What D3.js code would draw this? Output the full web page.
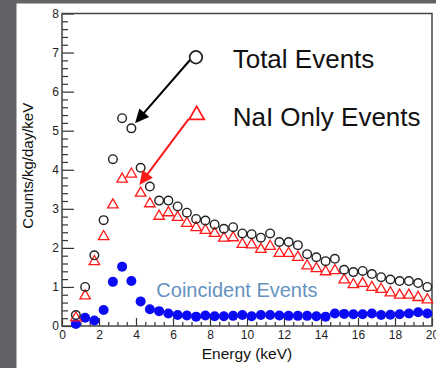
<!DOCTYPE html>
<html><head><meta charset="utf-8">
<script src="https://cdn.jsdelivr.net/npm/d3@7"></script>
<style>html,body{margin:0;padding:0;background:#fff;}svg{display:block;font-family:"Liberation Sans",Arial,sans-serif;}</style>
</head><body>
<svg id="c" width="436" height="368"></svg>
<script>
const energy = [0.75,1.25,1.75,2.25,2.75,3.25,3.75,4.25,4.75,5.25,5.75,6.25,6.75,7.25,7.75,8.25,8.75,9.25,9.75,10.25,10.75,11.25,11.75,12.25,12.75,13.25,13.75,14.25,14.75,15.25,15.75,16.25,16.75,17.25,17.75,18.25,18.75,19.25,19.75];
const totalEvents = [0.28,1.0,1.81,2.71,4.27,5.32,5.06,4.05,3.57,3.21,3.21,3.06,2.90,2.74,2.70,2.60,2.49,2.53,2.37,2.35,2.26,2.37,2.15,2.15,2.07,1.84,1.76,1.66,1.72,1.44,1.38,1.41,1.33,1.25,1.19,1.15,1.15,1.10,1.00];
const naiOnly = [0.21,0.77,1.65,2.29,3.10,3.76,3.89,3.40,3.13,2.81,2.90,2.78,2.63,2.52,2.45,2.37,2.25,2.26,2.09,2.08,1.96,2.04,1.86,1.86,1.76,1.54,1.47,1.39,1.42,1.18,1.06,1.09,0.99,0.94,0.85,0.79,0.79,0.73,0.67];
const coincident = [0.05,0.21,0.14,0.41,1.13,1.52,1.15,0.63,0.43,0.38,0.32,0.28,0.27,0.24,0.27,0.25,0.25,0.26,0.28,0.25,0.28,0.28,0.27,0.26,0.26,0.26,0.25,0.24,0.32,0.31,0.30,0.30,0.32,0.28,0.29,0.30,0.32,0.35,0.32];
const xTicks = [0,2,4,6,8,10,12,14,16,18,20];
const yTicks = [0,1,2,3,4,5,6,7,8];
const legendItems = [
  {label:"Total Events", kind:"circle", color:"#222", pos:[7.24,6.88], arrowFrom:[6.92,6.81], arrowTo:[3.95,5.19]},
  {label:"NaI Only Events", kind:"triangle", color:"#ff1a1a", pos:[7.28,5.40], arrowFrom:[6.83,5.29], arrowTo:[4.18,3.61]}
];
const coincidentLabel = {text:"Coincident Events", pos:[5.1,0.75]};

const svg = d3.select("#c");
svg.append("rect").attr("x",0).attr("y",0).attr("width",436).attr("height",3.5).attr("fill","#646266");
svg.append("rect").attr("x",0).attr("y",0).attr("width",16.5).attr("height",368).attr("fill","#646266");

const x = d3.scaleLinear().domain([0,20]).range([62,432]);
const y = d3.scaleLinear().domain([0,8]).range([326,13.5]);

const axisColor = "#333";
const xMinor = d3.range(0,20.01,0.5).filter(v=>Math.abs(v%2)>1e-6);
const yMinor = d3.range(0,8.01,0.2).filter(v=>Math.abs(v-Math.round(v))>1e-6);
const gxm = svg.append("g").attr("transform","translate(0,326)").call(d3.axisBottom(x).tickValues(xMinor).tickSize(-4).tickSizeOuter(0).tickFormat(""));
const gym = svg.append("g").attr("transform","translate(62,0)").call(d3.axisLeft(y).tickValues(yMinor).tickSize(-6).tickSizeOuter(0).tickFormat(""));
const gx = svg.append("g").attr("transform","translate(0,326)").call(d3.axisBottom(x).tickValues(xTicks).tickSize(-8).tickSizeOuter(0).tickPadding(4).tickFormat(d3.format("d")));
const gy = svg.append("g").attr("transform","translate(62,0)").call(d3.axisLeft(y).tickValues(yTicks).tickSize(-12).tickSizeOuter(0).tickPadding(3).tickFormat(d3.format("d")));
[gxm,gym,gx,gy].forEach(g=>{
  g.selectAll("path.domain").remove();
  g.selectAll("line").attr("stroke",axisColor).attr("stroke-width",1.2);
  g.selectAll("text").attr("fill","#222").style("font-size","12px").style("font-family","Liberation Sans, Arial, sans-serif");
});
svg.append("rect").attr("x",62).attr("y",13.5).attr("width",370).attr("height",312.5).attr("fill","none").attr("stroke","#444").attr("stroke-width",1.5);

svg.append("text").attr("x",(x(0)+x(20))/2).attr("y",359.3).attr("text-anchor","middle").style("font-size","15.5px").attr("fill","#111").text("Energy (keV)");
svg.append("text").attr("transform",`translate(33,${(y(0)+y(8))/2 - 4}) rotate(-90)`).attr("text-anchor","middle").style("font-size","15px").attr("fill","#111").text("Counts/kg/day/keV");

function triPath(cx,cy,s){
  const h = s*Math.sqrt(3)/2;
  return `M${cx},${cy-2*h/3}L${cx+s/2},${cy+h/3}L${cx-s/2},${cy+h/3}Z`;
}

svg.append("g").selectAll("circle").data(energy).join("circle")
  .attr("cx",d=>x(d)).attr("cy",(d,i)=>y(coincident[i])).attr("r",5).attr("fill","#0a0af5");
svg.append("g").selectAll("path").data(energy).join("path")
  .attr("d",(d,i)=>triPath(x(d),y(naiOnly[i]),10.5)).attr("fill","none").attr("stroke","#ff1a1a").attr("stroke-width",1.3);
svg.append("g").selectAll("circle").data(energy).join("circle")
  .attr("cx",d=>x(d)).attr("cy",(d,i)=>y(totalEvents[i])).attr("r",4.3).attr("fill","none").attr("stroke","#222").attr("stroke-width",1.4);

legendItems.forEach(it=>{
  const [x0,y0] = [x(it.arrowFrom[0]),y(it.arrowFrom[1])];
  const [x1,y1] = [x(it.arrowTo[0]),y(it.arrowTo[1])];
  const dx=x1-x0, dy=y1-y0, L=Math.hypot(dx,dy), ux=dx/L, uy=dy/L;
  const hl=14, hw=6.5;
  const bx=x1-ux*hl, by=y1-uy*hl;
  const col = it.color==="#222"?"#000":it.color;
  svg.append("line").attr("x1",x0).attr("y1",y0).attr("x2",bx+ux*2).attr("y2",by+uy*2).attr("stroke",col).attr("stroke-width",2);
  svg.append("path").attr("d",`M${x1},${y1}L${bx-uy*hw},${by+ux*hw}L${bx+uy*hw},${by-ux*hw}Z`).attr("fill",col);
  const px=x(it.pos[0]), py=y(it.pos[1]);
  if(it.kind==="circle"){
    svg.append("circle").attr("cx",px).attr("cy",py).attr("r",6.3).attr("fill","none").attr("stroke","#222").attr("stroke-width",1.7);
  } else {
    svg.append("path").attr("d",triPath(px,py,15)).attr("fill","none").attr("stroke",it.color).attr("stroke-width",1.8);
  }
  svg.append("text").attr("x",232.7).attr("y",py+10.7).style("font-size","26px").attr("fill","#111").text(it.label);
});

svg.append("text").attr("x",x(coincidentLabel.pos[0])).attr("y",y(coincidentLabel.pos[1])).style("font-size","20px").attr("fill","#6592bf").text(coincidentLabel.text);
</script>
</body></html>
